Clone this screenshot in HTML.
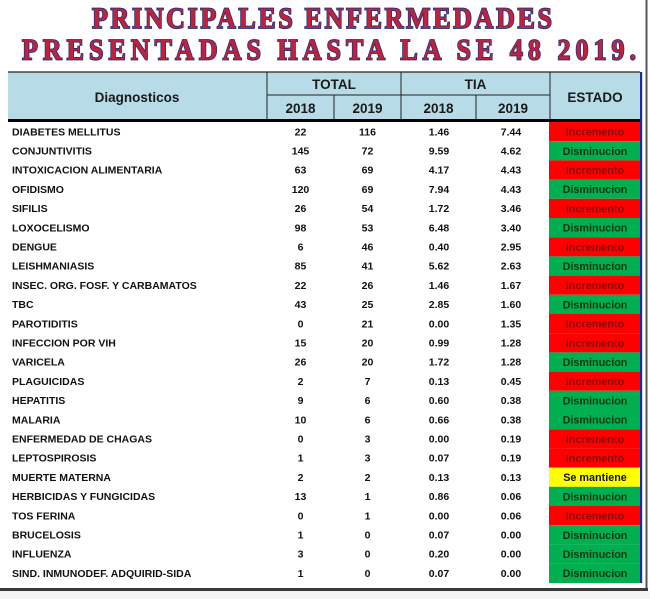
<!DOCTYPE html>
<html><head><meta charset="utf-8"><style>
html,body{margin:0;padding:0;background:#fff;}
svg{display:block;}
.n{font-family:"Liberation Sans",Arial,sans-serif;font-weight:bold;font-size:10.5px;fill:#111;}
.c{text-anchor:middle;}
.h{font-family:"Liberation Sans",Arial,sans-serif;font-weight:bold;font-size:13.5px;fill:#1a1a1a;text-anchor:middle;}
.e{font-family:"Liberation Sans",Arial,sans-serif;font-weight:bold;font-size:10.8px;text-anchor:middle;}
.t{font-family:"Liberation Serif","DejaVu Serif",serif;font-weight:bold;font-size:26px;fill:#c0223c;stroke:#22307a;stroke-width:1.5px;paint-order:stroke;}
</style></head><body>
<svg width="650" height="599" viewBox="0 0 650 599" xmlns="http://www.w3.org/2000/svg">
<rect x="0" y="0" width="650" height="599" fill="#fff"/>
<!-- Title -->
<g transform="translate(0,28) scale(1,1.15)">
<text class="t" x="92" y="0" textLength="460" lengthAdjust="spacing">PRINCIPALES ENFERMEDADES</text>
</g>
<g transform="translate(0,59.5) scale(1,1.15)">
<text class="t" x="22" y="0" textLength="614" lengthAdjust="spacing">PRESENTADAS HASTA LA SE 48 2019.</text>
</g>

<!-- Header -->
<rect x="8" y="72" width="632" height="47" fill="#b7dce8"/>
<line x1="8" y1="72" x2="640" y2="72" stroke="#222" stroke-width="1.2"/>
<line x1="267" y1="72" x2="267" y2="119" stroke="#222" stroke-width="1"/>
<line x1="401" y1="72" x2="401" y2="119" stroke="#222" stroke-width="1"/>
<line x1="550" y1="72" x2="550" y2="119" stroke="#222" stroke-width="1"/>
<line x1="334" y1="95" x2="334" y2="119" stroke="#222" stroke-width="1"/>
<line x1="476" y1="95" x2="476" y2="119" stroke="#222" stroke-width="1"/>
<line x1="267" y1="95" x2="550" y2="95" stroke="#222" stroke-width="1"/>
<rect x="8" y="119" width="632" height="3" fill="#000"/>
<text class="h" x="137" y="102">Diagnosticos</text>
<text class="h" x="334" y="89">TOTAL</text>
<text class="h" x="475.5" y="89">TIA</text>
<text class="h" x="300.5" y="113">2018</text>
<text class="h" x="367.5" y="113">2019</text>
<text class="h" x="438.5" y="113">2018</text>
<text class="h" x="513" y="113">2019</text>
<text class="h" x="595" y="102">ESTADO</text>

<!-- Estado cells -->
<g>
<rect x="549" y="122" width="91" height="19.2" fill="#ff0000"/>
<rect x="549" y="141.2" width="91" height="19.2" fill="#00b050"/>
<rect x="549" y="160.4" width="91" height="19.2" fill="#ff0000"/>
<rect x="549" y="179.6" width="91" height="19.2" fill="#00b050"/>
<rect x="549" y="198.8" width="91" height="19.2" fill="#ff0000"/>
<rect x="549" y="218" width="91" height="19.2" fill="#00b050"/>
<rect x="549" y="237.2" width="91" height="19.2" fill="#ff0000"/>
<rect x="549" y="256.4" width="91" height="19.2" fill="#00b050"/>
<rect x="549" y="275.6" width="91" height="19.2" fill="#ff0000"/>
<rect x="549" y="294.8" width="91" height="19.2" fill="#00b050"/>
<rect x="549" y="314" width="91" height="19.2" fill="#ff0000"/>
<rect x="549" y="333.2" width="91" height="19.2" fill="#ff0000"/>
<rect x="549" y="352.4" width="91" height="19.2" fill="#00b050"/>
<rect x="549" y="371.6" width="91" height="19.2" fill="#ff0000"/>
<rect x="549" y="390.8" width="91" height="19.2" fill="#00b050"/>
<rect x="549" y="410" width="91" height="19.2" fill="#00b050"/>
<rect x="549" y="429.2" width="91" height="19.2" fill="#ff0000"/>
<rect x="549" y="448.4" width="91" height="19.2" fill="#ff0000"/>
<rect x="549" y="467.6" width="91" height="19.2" fill="#ffff00"/>
<rect x="549" y="486.8" width="91" height="19.2" fill="#00b050"/>
<rect x="549" y="506" width="91" height="19.2" fill="#ff0000"/>
<rect x="549" y="525.2" width="91" height="19.2" fill="#00b050"/>
<rect x="549" y="544.4" width="91" height="19.2" fill="#00b050"/>
<rect x="549" y="563.6" width="91" height="19.4" fill="#00b050"/>
</g>

<!-- Right blue line and frame -->
<rect x="640" y="72" width="2.2" height="511" fill="#1f2d9c"/>
<rect x="645.5" y="0" width="2" height="591" fill="#555"/>
<rect x="0" y="588" width="648" height="3" fill="#3a3a3a"/>
<rect x="0" y="591" width="650" height="8" fill="#f4f4f4"/>

<!-- Rows -->
<g id="rows">
<text class="n" x="12" y="135.3">DIABETES MELLITUS</text><text class="n c" x="300.5" y="135.3">22</text><text class="n c" x="367.5" y="135.3">116</text><text class="n c" x="439" y="135.3">1.46</text><text class="n c" x="511" y="135.3">7.44</text><text class="e" x="595" y="135.6" fill="#8e0a0a">Incremento</text>
<text class="n" x="12" y="154.5">CONJUNTIVITIS</text><text class="n c" x="300.5" y="154.5">145</text><text class="n c" x="367.5" y="154.5">72</text><text class="n c" x="439" y="154.5">9.59</text><text class="n c" x="511" y="154.5">4.62</text><text class="e" x="595" y="154.8" fill="#0c3512">Disminucion</text>
<text class="n" x="12" y="173.7">INTOXICACION ALIMENTARIA</text><text class="n c" x="300.5" y="173.7">63</text><text class="n c" x="367.5" y="173.7">69</text><text class="n c" x="439" y="173.7">4.17</text><text class="n c" x="511" y="173.7">4.43</text><text class="e" x="595" y="174" fill="#8e0a0a">Incremento</text>
<text class="n" x="12" y="192.9">OFIDISMO</text><text class="n c" x="300.5" y="192.9">120</text><text class="n c" x="367.5" y="192.9">69</text><text class="n c" x="439" y="192.9">7.94</text><text class="n c" x="511" y="192.9">4.43</text><text class="e" x="595" y="193.2" fill="#0c3512">Disminucion</text>
<text class="n" x="12" y="212.1">SIFILIS</text><text class="n c" x="300.5" y="212.1">26</text><text class="n c" x="367.5" y="212.1">54</text><text class="n c" x="439" y="212.1">1.72</text><text class="n c" x="511" y="212.1">3.46</text><text class="e" x="595" y="212.4" fill="#8e0a0a">Incremento</text>
<text class="n" x="12" y="231.3">LOXOCELISMO</text><text class="n c" x="300.5" y="231.3">98</text><text class="n c" x="367.5" y="231.3">53</text><text class="n c" x="439" y="231.3">6.48</text><text class="n c" x="511" y="231.3">3.40</text><text class="e" x="595" y="231.6" fill="#0c3512">Disminucion</text>
<text class="n" x="12" y="250.5">DENGUE</text><text class="n c" x="300.5" y="250.5">6</text><text class="n c" x="367.5" y="250.5">46</text><text class="n c" x="439" y="250.5">0.40</text><text class="n c" x="511" y="250.5">2.95</text><text class="e" x="595" y="250.8" fill="#8e0a0a">Incremento</text>
<text class="n" x="12" y="269.7">LEISHMANIASIS</text><text class="n c" x="300.5" y="269.7">85</text><text class="n c" x="367.5" y="269.7">41</text><text class="n c" x="439" y="269.7">5.62</text><text class="n c" x="511" y="269.7">2.63</text><text class="e" x="595" y="270" fill="#0c3512">Disminucion</text>
<text class="n" x="12" y="288.9">INSEC. ORG. FOSF. Y CARBAMATOS</text><text class="n c" x="300.5" y="288.9">22</text><text class="n c" x="367.5" y="288.9">26</text><text class="n c" x="439" y="288.9">1.46</text><text class="n c" x="511" y="288.9">1.67</text><text class="e" x="595" y="289.2" fill="#8e0a0a">Incremento</text>
<text class="n" x="12" y="308.1">TBC</text><text class="n c" x="300.5" y="308.1">43</text><text class="n c" x="367.5" y="308.1">25</text><text class="n c" x="439" y="308.1">2.85</text><text class="n c" x="511" y="308.1">1.60</text><text class="e" x="595" y="308.4" fill="#0c3512">Disminucion</text>
<text class="n" x="12" y="327.3">PAROTIDITIS</text><text class="n c" x="300.5" y="327.3">0</text><text class="n c" x="367.5" y="327.3">21</text><text class="n c" x="439" y="327.3">0.00</text><text class="n c" x="511" y="327.3">1.35</text><text class="e" x="595" y="327.6" fill="#8e0a0a">Incremento</text>
<text class="n" x="12" y="346.5">INFECCION POR VIH</text><text class="n c" x="300.5" y="346.5">15</text><text class="n c" x="367.5" y="346.5">20</text><text class="n c" x="439" y="346.5">0.99</text><text class="n c" x="511" y="346.5">1.28</text><text class="e" x="595" y="346.8" fill="#8e0a0a">Incremento</text>
<text class="n" x="12" y="365.7">VARICELA</text><text class="n c" x="300.5" y="365.7">26</text><text class="n c" x="367.5" y="365.7">20</text><text class="n c" x="439" y="365.7">1.72</text><text class="n c" x="511" y="365.7">1.28</text><text class="e" x="595" y="366" fill="#0c3512">Disminucion</text>
<text class="n" x="12" y="384.9">PLAGUICIDAS</text><text class="n c" x="300.5" y="384.9">2</text><text class="n c" x="367.5" y="384.9">7</text><text class="n c" x="439" y="384.9">0.13</text><text class="n c" x="511" y="384.9">0.45</text><text class="e" x="595" y="385.2" fill="#8e0a0a">Incremento</text>
<text class="n" x="12" y="404.1">HEPATITIS</text><text class="n c" x="300.5" y="404.1">9</text><text class="n c" x="367.5" y="404.1">6</text><text class="n c" x="439" y="404.1">0.60</text><text class="n c" x="511" y="404.1">0.38</text><text class="e" x="595" y="404.4" fill="#0c3512">Disminucion</text>
<text class="n" x="12" y="423.3">MALARIA</text><text class="n c" x="300.5" y="423.3">10</text><text class="n c" x="367.5" y="423.3">6</text><text class="n c" x="439" y="423.3">0.66</text><text class="n c" x="511" y="423.3">0.38</text><text class="e" x="595" y="423.6" fill="#0c3512">Disminucion</text>
<text class="n" x="12" y="442.5">ENFERMEDAD DE CHAGAS</text><text class="n c" x="300.5" y="442.5">0</text><text class="n c" x="367.5" y="442.5">3</text><text class="n c" x="439" y="442.5">0.00</text><text class="n c" x="511" y="442.5">0.19</text><text class="e" x="595" y="442.8" fill="#8e0a0a">Incremento</text>
<text class="n" x="12" y="461.7">LEPTOSPIROSIS</text><text class="n c" x="300.5" y="461.7">1</text><text class="n c" x="367.5" y="461.7">3</text><text class="n c" x="439" y="461.7">0.07</text><text class="n c" x="511" y="461.7">0.19</text><text class="e" x="595" y="462" fill="#8e0a0a">Incremento</text>
<text class="n" x="12" y="480.9">MUERTE MATERNA</text><text class="n c" x="300.5" y="480.9">2</text><text class="n c" x="367.5" y="480.9">2</text><text class="n c" x="439" y="480.9">0.13</text><text class="n c" x="511" y="480.9">0.13</text><text class="e" x="595" y="481.2" fill="#111">Se mantiene</text>
<text class="n" x="12" y="500.1">HERBICIDAS Y FUNGICIDAS</text><text class="n c" x="300.5" y="500.1">13</text><text class="n c" x="367.5" y="500.1">1</text><text class="n c" x="439" y="500.1">0.86</text><text class="n c" x="511" y="500.1">0.06</text><text class="e" x="595" y="500.4" fill="#0c3512">Disminucion</text>
<text class="n" x="12" y="519.3">TOS FERINA</text><text class="n c" x="300.5" y="519.3">0</text><text class="n c" x="367.5" y="519.3">1</text><text class="n c" x="439" y="519.3">0.00</text><text class="n c" x="511" y="519.3">0.06</text><text class="e" x="595" y="519.6" fill="#8e0a0a">Incremento</text>
<text class="n" x="12" y="538.5">BRUCELOSIS</text><text class="n c" x="300.5" y="538.5">1</text><text class="n c" x="367.5" y="538.5">0</text><text class="n c" x="439" y="538.5">0.07</text><text class="n c" x="511" y="538.5">0.00</text><text class="e" x="595" y="538.8" fill="#0c3512">Disminucion</text>
<text class="n" x="12" y="557.7">INFLUENZA</text><text class="n c" x="300.5" y="557.7">3</text><text class="n c" x="367.5" y="557.7">0</text><text class="n c" x="439" y="557.7">0.20</text><text class="n c" x="511" y="557.7">0.00</text><text class="e" x="595" y="558" fill="#0c3512">Disminucion</text>
<text class="n" x="12" y="576.9">SIND. INMUNODEF. ADQUIRID-SIDA</text><text class="n c" x="300.5" y="576.9">1</text><text class="n c" x="367.5" y="576.9">0</text><text class="n c" x="439" y="576.9">0.07</text><text class="n c" x="511" y="576.9">0.00</text><text class="e" x="595" y="577.2" fill="#0c3512">Disminucion</text>
</g>
</svg>
</body></html>
